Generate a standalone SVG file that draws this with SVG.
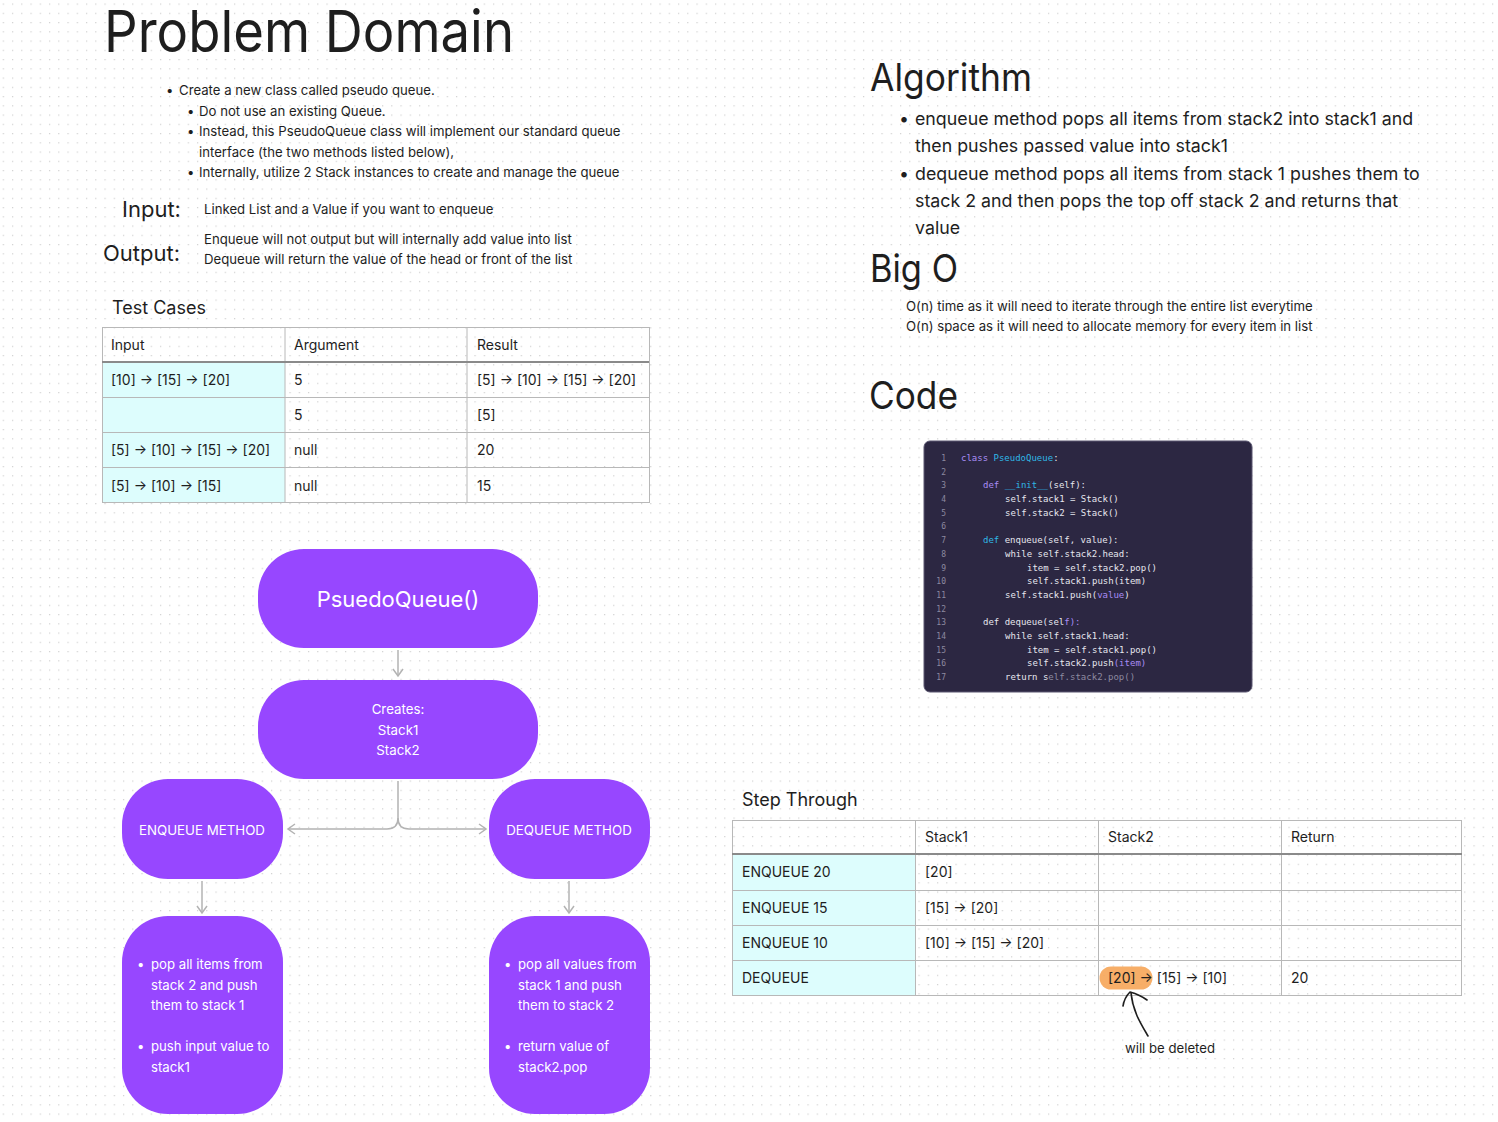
<svg xmlns="http://www.w3.org/2000/svg" width="1498" height="1122" viewBox="0 0 1498 1122">
<defs>
<pattern id="dots" x="2.7" y="3.5" width="9.25" height="9.25" patternUnits="userSpaceOnUse">
<rect x="0" y="0" width="1.2" height="1.2" fill="#cfcfcf"/>
</pattern>
<marker id="chev" viewBox="0 0 12 12" refX="10" refY="6" markerWidth="12" markerHeight="12" markerUnits="userSpaceOnUse" orient="auto">
<path d="M3,1 L10,6 L3,11" fill="none" stroke="#b3b3b3" stroke-width="1.5"/>
</marker>
<style>
text{font-family:Inter,"Noto Sans","Liberation Sans",sans-serif;fill:#1e1e1e}
.h1{font-size:58px}
.h2{font-size:38px}
.b14{font-size:13.2px}
.b13{font-size:13.2px}
.alg{font-size:17.8px}
.cell{font-size:14px}
.node{fill:#9747ff}
.wt{fill:#ffffff;font-size:13.3px;text-anchor:middle}
.wl{fill:#ffffff;font-size:13.2px}
.grid{stroke:#b8b8b8;stroke-width:1;fill:none}
.hdr{stroke:#8a8a8a;stroke-width:2}
.cyan{fill:#ddfdfd}
.conn{stroke:#b3b3b3;stroke-width:1.5;fill:none}
.code{font-family:"DejaVu Sans Mono","Liberation Mono",monospace;font-size:9px;fill:#e6e6ee}
.ln{font-family:"DejaVu Sans Mono","Liberation Mono",monospace;font-size:8px;fill:#8d8aa0;text-anchor:end}
.kw{fill:#a98df5}
.cy{fill:#2fb8e6}
.dim{fill:#8d8aa0}
</style>
</defs>
<rect width="1498" height="1122" fill="#ffffff"/>
<rect width="1498" height="1122" fill="url(#dots)"/>

<g id="problem-domain">
<text class="h1" x="104" y="52" textLength="410" lengthAdjust="spacingAndGlyphs">Problem Domain</text>
<text class="b14" x="166" y="95">•</text>
<text class="b14" x="179" y="95">Create a new class called pseudo queue.</text>
<text class="b14" x="187" y="116">•</text>
<text class="b14" x="199" y="116">Do not use an existing Queue.</text>
<text class="b14" x="187" y="136">•</text>
<text class="b14" x="199" y="136">Instead, this PseudoQueue class will implement our standard queue</text>
<text class="b14" x="199" y="157">interface (the two methods listed below),</text>
<text class="b14" x="187" y="177">•</text>
<text class="b14" x="199" y="177">Internally, utilize 2 Stack instances to create and manage the queue</text>
</g>

<g id="io">
<text x="122" y="217" style="font-size:22px">Input:</text>
<text class="b13" x="204" y="214">Linked List and a Value if you want to enqueue</text>
<text x="103" y="261" style="font-size:22px">Output:</text>
<text class="b13" x="204" y="244">Enqueue will not output but will internally add value into list</text>
<text class="b13" x="204" y="264">Dequeue will return the value of the head or front of the list</text>
</g>

<g id="test-cases">
<text x="112" y="314" style="font-size:18px">Test Cases</text>
<rect class="cyan" x="102" y="362" width="183" height="140"/>
<rect class="grid" x="102.5" y="327.5" width="547" height="175"/>
<line class="grid" x1="285" y1="327" x2="285" y2="502"/>
<line class="grid" x1="467" y1="327" x2="467" y2="502"/>
<line class="hdr" x1="102" y1="362" x2="649" y2="362"/>
<line class="grid" x1="102" y1="397.5" x2="649" y2="397.5"/>
<line class="grid" x1="102" y1="432.5" x2="649" y2="432.5"/>
<line class="grid" x1="102" y1="467.5" x2="649" y2="467.5"/>
<text class="cell" x="111" y="350">Input</text>
<text class="cell" x="294" y="350">Argument</text>
<text class="cell" x="477" y="350">Result</text>
<text class="cell" x="111" y="385">[10] → [15] → [20]</text>
<text class="cell" x="294" y="385">5</text>
<text class="cell" x="477" y="385">[5] → [10] → [15] → [20]</text>
<text class="cell" x="294" y="420">5</text>
<text class="cell" x="477" y="420">[5]</text>
<text class="cell" x="111" y="455">[5] → [10] → [15] → [20]</text>
<text class="cell" x="294" y="455">null</text>
<text class="cell" x="477" y="455">20</text>
<text class="cell" x="111" y="491">[5] → [10] → [15]</text>
<text class="cell" x="294" y="491">null</text>
<text class="cell" x="477" y="491">15</text>
</g>

<g id="connectors">
<line class="conn" x1="398" y1="650" x2="398" y2="676" marker-end="url(#chev)"/>
<path class="conn" d="M398,781 L398,818 Q398,829 387,829 L288,829" marker-end="url(#chev)"/>
<path class="conn" d="M398,818 Q398,829 409,829 L486,829" marker-end="url(#chev)"/>
<line class="conn" x1="202" y1="881" x2="202" y2="913" marker-end="url(#chev)"/>
<line class="conn" x1="569" y1="881" x2="569" y2="913" marker-end="url(#chev)"/>
</g>

<g id="node-pseudoqueue">
<rect class="node" x="258" y="549" width="280" height="99" rx="46"/>
<text x="398" y="607" style="fill:#fff;font-size:22px;text-anchor:middle">PsuedoQueue()</text>
</g>
<g id="node-creates">
<rect class="node" x="258" y="680" width="280" height="99" rx="46"/>
<text class="wt" x="398" y="714">Creates:</text>
<text class="wt" x="398" y="735">Stack1</text>
<text class="wt" x="398" y="755">Stack2</text>
</g>
<g id="node-enqueue">
<rect class="node" x="122" y="779" width="161" height="100" rx="46"/>
<text class="wt" x="202" y="835">ENQUEUE METHOD</text>
</g>
<g id="node-dequeue">
<rect class="node" x="489" y="779" width="161" height="100" rx="46"/>
<text class="wt" x="569" y="835">DEQUEUE METHOD</text>
</g>
<g id="node-enqueue-steps">
<rect class="node" x="122" y="916" width="161" height="198" rx="46"/>
<text class="wl" x="137" y="969">•</text>
<text class="wl" x="151" y="969">pop all items from</text>
<text class="wl" x="151" y="990">stack 2 and push</text>
<text class="wl" x="151" y="1010">them to stack 1</text>
<text class="wl" x="137" y="1051">•</text>
<text class="wl" x="151" y="1051">push input value to</text>
<text class="wl" x="151" y="1072">stack1</text>
</g>
<g id="node-dequeue-steps">
<rect class="node" x="489" y="916" width="161" height="198" rx="46"/>
<text class="wl" x="504" y="969">•</text>
<text class="wl" x="518" y="969">pop all values from</text>
<text class="wl" x="518" y="990">stack 1 and push</text>
<text class="wl" x="518" y="1010">them to stack 2</text>
<text class="wl" x="504" y="1051">•</text>
<text class="wl" x="518" y="1051">return value of</text>
<text class="wl" x="518" y="1072">stack2.pop</text>
</g>

<g id="algorithm">
<text class="h2" x="870" y="91" textLength="162" lengthAdjust="spacingAndGlyphs">Algorithm</text>
<text class="alg" x="899" y="125">•</text>
<text class="alg" x="915" y="125">enqueue method pops all items from stack2 into stack1 and</text>
<text class="alg" x="915" y="152">then pushes passed value into stack1</text>
<text class="alg" x="899" y="180">•</text>
<text class="alg" x="915" y="180">dequeue method pops all items from stack 1 pushes them to</text>
<text class="alg" x="915" y="207">stack 2 and then pops the top off stack 2 and returns that</text>
<text class="alg" x="915" y="234">value</text>
</g>

<g id="big-o">
<text class="h2" x="870" y="282" textLength="88" lengthAdjust="spacingAndGlyphs">Big O</text>
<text class="b13" x="906" y="311">O(n) time as it will need to iterate through the entire list everytime</text>
<text class="b13" x="906" y="331">O(n) space as it will need to allocate memory for every item in list</text>
</g>

<g id="code">
<text class="h2" x="869" y="409" textLength="89" lengthAdjust="spacingAndGlyphs">Code</text>
<rect x="924" y="441" width="328" height="251" rx="6" fill="#2c2742" stroke="#5a5670" stroke-width="1"/>
<text class="ln" x="946" y="461">1</text>
<text class="ln" x="946" y="475">2</text>
<text class="ln" x="946" y="488">3</text>
<text class="ln" x="946" y="502">4</text>
<text class="ln" x="946" y="516">5</text>
<text class="ln" x="946" y="529">6</text>
<text class="ln" x="946" y="543">7</text>
<text class="ln" x="946" y="557">8</text>
<text class="ln" x="946" y="571">9</text>
<text class="ln" x="946" y="584">10</text>
<text class="ln" x="946" y="598">11</text>
<text class="ln" x="946" y="612">12</text>
<text class="ln" x="946" y="625">13</text>
<text class="ln" x="946" y="639">14</text>
<text class="ln" x="946" y="653">15</text>
<text class="ln" x="946" y="666">16</text>
<text class="ln" x="946" y="680">17</text>
<text class="code" x="961" y="461"><tspan class="kw">class</tspan> <tspan class="cy">PseudoQueue</tspan>:</text>
<text class="code" x="983" y="488"><tspan class="kw">def</tspan> <tspan class="cy">__init__</tspan>(self):</text>
<text class="code" x="1005" y="502">self.stack1 = Stack()</text>
<text class="code" x="1005" y="516">self.stack2 = Stack()</text>
<text class="code" x="983" y="543"><tspan class="cy">def</tspan> enqueue(self, value):</text>
<text class="code" x="1005" y="557">while self.stack2.head:</text>
<text class="code" x="1027" y="571">item = self.stack2.pop()</text>
<text class="code" x="1027" y="584">self.stack1.push(item)</text>
<text class="code" x="1005" y="598">self.stack1.push(<tspan class="kw">value</tspan>)</text>
<text class="code" x="983" y="625">def dequeue(sel<tspan class="kw">f):</tspan></text>
<text class="code" x="1005" y="639">while self.stack1.head:</text>
<text class="code" x="1027" y="653">item = self.stack1.pop()</text>
<text class="code" x="1027" y="666">self.stack2.push<tspan class="kw">(item)</tspan></text>
<text class="code" x="1005" y="680">return s<tspan class="dim">elf.stack2.pop()</tspan></text>
</g>

<g id="step-through">
<text x="742" y="806" style="font-size:18px">Step Through</text>
<rect class="cyan" x="732" y="854" width="183" height="141"/>
<rect class="grid" x="732.5" y="820.5" width="729" height="175"/>
<line class="grid" x1="915.5" y1="820" x2="915.5" y2="995"/>
<line class="grid" x1="1098.5" y1="820" x2="1098.5" y2="995"/>
<line class="grid" x1="1281.5" y1="820" x2="1281.5" y2="995"/>
<line class="hdr" x1="732" y1="854" x2="1462" y2="854"/>
<line class="grid" x1="732" y1="890.5" x2="1462" y2="890.5"/>
<line class="grid" x1="732" y1="925.5" x2="1462" y2="925.5"/>
<line class="grid" x1="732" y1="960.5" x2="1462" y2="960.5"/>
<text class="cell" x="925" y="842">Stack1</text>
<text class="cell" x="1108" y="842">Stack2</text>
<text class="cell" x="1291" y="842">Return</text>
<text class="cell" x="742" y="877">ENQUEUE 20</text>
<text class="cell" x="925" y="877">[20]</text>
<text class="cell" x="742" y="913">ENQUEUE 15</text>
<text class="cell" x="925" y="913">[15] → [20]</text>
<text class="cell" x="742" y="948">ENQUEUE 10</text>
<text class="cell" x="925" y="948">[10] → [15] → [20]</text>
<text class="cell" x="742" y="983">DEQUEUE</text>
<path d="M1111,978 L1141,978" stroke="#f6a558" stroke-opacity="0.9" stroke-width="23" stroke-linecap="round" fill="none"/>
<text class="cell" x="1108" y="983">[20] → [15] → [10]</text>
<text class="cell" x="1291" y="983">20</text>
</g>

<g id="annotation">
<path d="M1148,1036 C1141,1024 1133,1012 1131,993 M1123,1006 C1124,1000 1127,995 1130,992 C1137,994 1143,997 1147,1000" fill="none" stroke="#1e1e1e" stroke-width="1.6" stroke-linecap="round" stroke-linejoin="round"/>
<text class="b14" x="1170" y="1053" text-anchor="middle">will be deleted</text>
</g>
</svg>
